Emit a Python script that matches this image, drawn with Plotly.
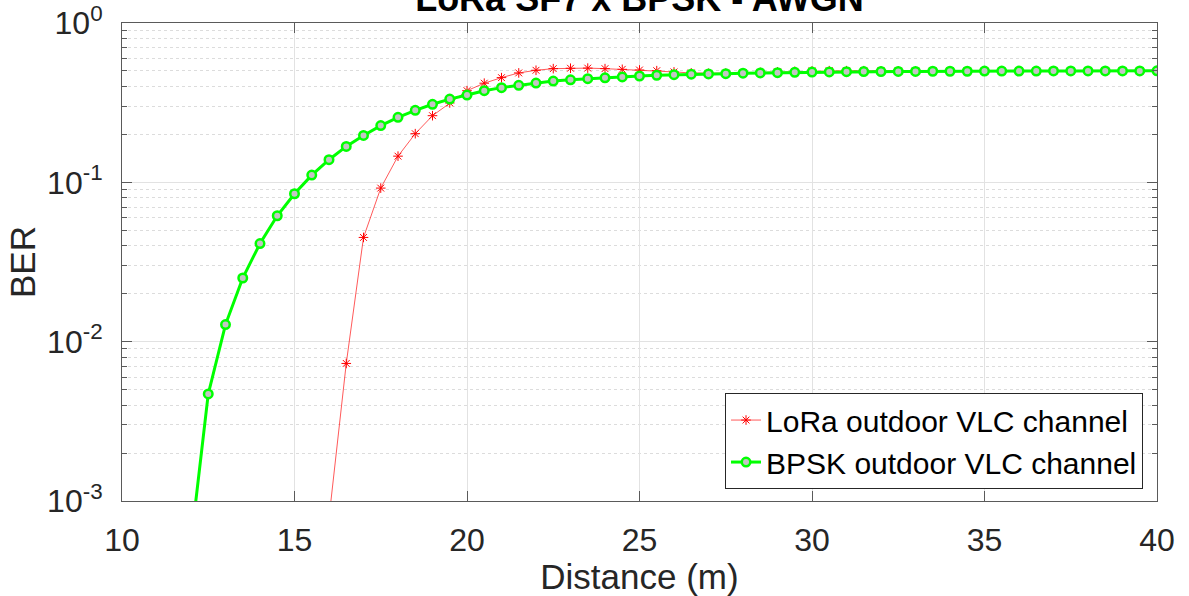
import plotly.graph_objects as go

# Distance grid (m) and measured BER for each scheme
bpsk_distance = [12.0, 12.5, 13.0, 13.5, 14.0, 14.5, 15.0, 15.5, 16.0, 16.5,
                 17.0, 17.5, 18.0, 18.5, 19.0, 19.5, 20.0, 20.5, 21.0, 21.5,
                 22.0, 22.5, 23.0, 23.5, 24.0, 24.5, 25.0, 25.5, 26.0, 26.5,
                 27.0, 27.5, 28.0, 28.5, 29.0, 29.5, 30.0, 30.5, 31.0, 31.5,
                 32.0, 32.5, 33.0, 33.5, 34.0, 34.5, 35.0, 35.5, 36.0, 36.5,
                 37.0, 37.5, 38.0, 38.5, 39.0, 39.5, 40.0]
bpsk_ber = [5.5e-4, 4.7e-3, 0.0128, 0.0251, 0.0413, 0.0617, 0.0848, 0.111, 0.1387, 0.168,
            0.197, 0.227, 0.256, 0.283, 0.309, 0.333, 0.353, 0.376, 0.393, 0.406,
            0.420, 0.432, 0.440, 0.447, 0.453, 0.459, 0.465, 0.470, 0.474, 0.477,
            0.479, 0.481, 0.484, 0.486, 0.488, 0.490, 0.492, 0.493, 0.495, 0.496,
            0.496, 0.497, 0.497, 0.498, 0.498, 0.498, 0.499, 0.499, 0.499, 0.499,
            0.500, 0.500, 0.500, 0.500, 0.500, 0.500, 0.501]

lora_distance = [16.0, 16.5, 17.0, 17.5, 18.0, 18.5, 19.0, 19.5, 20.0, 20.5,
                 21.0, 21.5, 22.0, 22.5, 23.0, 23.5, 24.0, 24.5, 25.0, 25.5,
                 26.0, 26.5, 27.0, 27.5, 28.0, 28.5, 29.0, 29.5, 30.0, 30.5,
                 31.0, 31.5, 32.0, 32.5, 33.0, 33.5, 34.0, 34.5, 35.0, 35.5,
                 36.0, 36.5, 37.0, 37.5, 38.0, 38.5, 39.0, 39.5, 40.0]
lora_ber = [7.8e-4, 7.3e-3, 0.0451, 0.092, 0.146, 0.202, 0.262, 0.315, 0.376, 0.419,
            0.454, 0.486, 0.505, 0.517, 0.520, 0.521, 0.517, 0.512, 0.507, 0.502,
            0.493, 0.486, 0.483, 0.484, 0.487, 0.490, 0.494, 0.497, 0.500, 0.502,
            0.502, 0.502, 0.501, 0.500, 0.500, 0.500, 0.500, 0.500, 0.500, 0.500,
            0.500, 0.500, 0.500, 0.500, 0.500, 0.500, 0.500, 0.500, 0.501]

x_ticks = [10, 15, 20, 25, 30, 35, 40]
y_ticks = [1e-3, 1e-2, 1e-1, 1e0]
y_ticktext = ["10<sup>-3</sup>", "10<sup>-2</sup>", "10<sup>-1</sup>", "10<sup>0</sup>"]
y_minor = [m * 10.0 ** e for e in (-3, -2, -1) for m in range(2, 10)]

FONT = "Liberation Sans, Arial, sans-serif"
TXT = "#262626"
AXC = "#5a5a5a"

fig = go.Figure()
fig.add_trace(go.Scatter(
    x=lora_distance, y=lora_ber, mode="lines+markers",
    name="LoRa outdoor VLC channel",
    line=dict(color="rgba(255,0,0,0.65)", width=1),
    marker=dict(symbol="asterisk-open", size=8, color="#ff0000",
                line=dict(color="#ff0000", width=1)),
))
fig.add_trace(go.Scatter(
    x=bpsk_distance, y=bpsk_ber, mode="lines+markers",
    name="BPSK outdoor VLC channel",
    line=dict(color="#00ff00", width=3),
    marker=dict(symbol="circle", size=8.5, color="#c4c4c4",
                line=dict(color="#00ff00", width=2.5)),
))

fig.update_layout(
    width=1189, height=596,
    margin=dict(l=122, r=32, t=23, b=95, autoexpand=False),
    paper_bgcolor="white", plot_bgcolor="white",
    font=dict(family=FONT, color=TXT),
    title=dict(text="LoRa SF7 x BPSK - AWGN",
               font=dict(family=FONT, size=36, color="black", weight="bold"),
               x=0.5, xref="paper", xanchor="center",
               y=1 - 11 / 596, yref="container", yanchor="bottom"),
    showlegend=True,
    legend=dict(x=0.9865, xanchor="right", y=0.025, yanchor="bottom",
                bgcolor="white", bordercolor="#262626", borderwidth=1,
                font=dict(family=FONT, size=30, color="black"),
                itemwidth=30, tracegroupgap=0),
)

fig.update_xaxes(
    range=[10, 40], tickmode="array", tickvals=x_ticks, automargin=False,
    ticks="inside", ticklen=10, tickwidth=1, tickcolor=AXC,
    showline=True, linecolor=AXC, linewidth=1, mirror="allticks",
    showgrid=True, gridcolor="#e2e2e2", gridwidth=1, zeroline=False,
    tickfont=dict(family=FONT, size=32, color=TXT),
    ticklabelstandoff=11,
    title=dict(text="Distance (m)", font=dict(family=FONT, size=35, color=TXT),
               standoff=0),
)

fig.update_yaxes(
    type="log", range=[-3, 0], tickmode="array", tickvals=y_ticks, ticktext=y_ticktext,
    automargin=False,
    ticks="inside", ticklen=10, tickwidth=1, tickcolor=AXC,
    showline=True, linecolor=AXC, linewidth=1, mirror="allticks",
    showgrid=True, gridcolor="#e2e2e2", gridwidth=1, zeroline=False,
    tickfont=dict(family=FONT, size=32, color=TXT),
    ticklabelstandoff=12,
    minor=dict(tickmode="array", tickvals=y_minor, ticks="inside", ticklen=5,
               tickcolor=AXC, showgrid=True, griddash="dot",
               gridcolor="#dcdcdc", gridwidth=1),
    title=dict(text="BER", font=dict(family=FONT, size=35, color=TXT), standoff=0),
)

fig.write_html("out.html")
